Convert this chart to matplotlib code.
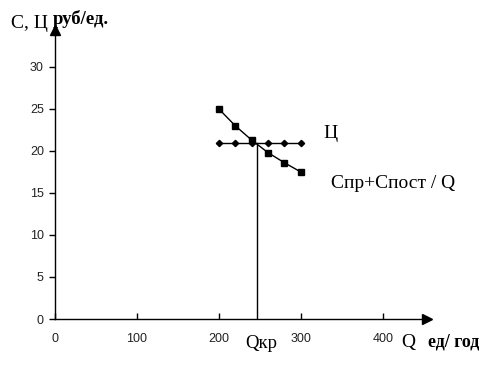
import matplotlib.pyplot as plt

# Data
q_price = [200, 220, 240, 260, 280, 300]
price = [21, 21, 21, 21, 21, 21]

q_cost = [200, 220, 240, 260, 280, 300]
cost = [25, 23, 21.3, 19.8, 18.6, 17.5]

q_crit = 247
x_ticks = [0, 100, 200, 300, 400]
y_ticks = [0, 5, 10, 15, 20, 25, 30]

serif = 'Liberation Serif'
W, H = 504, 367

fig = plt.figure(figsize=(5.04, 3.67), dpi=100)
ax = fig.add_axes([55 / W, 48 / H, 372 / W, 289 / H])

ax.plot(q_price, price, color='black', lw=1, marker='D', ms=3.2)
ax.plot(q_cost, cost, color='black', lw=1, marker='s', ms=3.8)
ax.plot([q_crit, q_crit], [0, price[0]], color='black', lw=1)

ax.set_xlim(0, 454)
ax.set_ylim(0, 34.4)
ax.set_xticks(x_ticks)
ax.set_yticks(y_ticks)
ax.tick_params(axis='x', direction='in', length=4, pad=10, labelsize=9, width=1)
ax.tick_params(axis='y', direction='out', length=4, pad=4, labelsize=9, width=1)
for lab in ax.get_xticklabels() + ax.get_yticklabels():
    lab.set_fontfamily('Liberation Sans')
    lab.set_color('#222222')

for s in ['top', 'right']:
    ax.spines[s].set_visible(False)
for s in ['left', 'bottom']:
    ax.spines[s].set_linewidth(1)

# axis arrows
ax.plot(1, 0, marker='>', ms=7, color='black', transform=ax.transAxes, clip_on=False)
ax.plot(0, 1, marker='^', ms=7, color='black', transform=ax.transAxes, clip_on=False)


def label(x, y, s, size, bold=False):
    fig.text(x / W, 1 - y / H, s, family=serif, fontsize=size,
             fontweight='bold' if bold else 'normal', va='baseline')


label(11, 28, 'С, Ц', 14)
label(53, 24, 'руб/ед.', 13.5, bold=True)
label(323, 138, 'Ц', 14)
label(331, 188, 'Спр+Спост / Q', 14)
label(245, 348, 'Qкр', 13.5)
label(401, 347, 'Q', 14)
label(428, 347, 'ед/ год', 13, bold=True)

fig.savefig('out.png', dpi=100)
